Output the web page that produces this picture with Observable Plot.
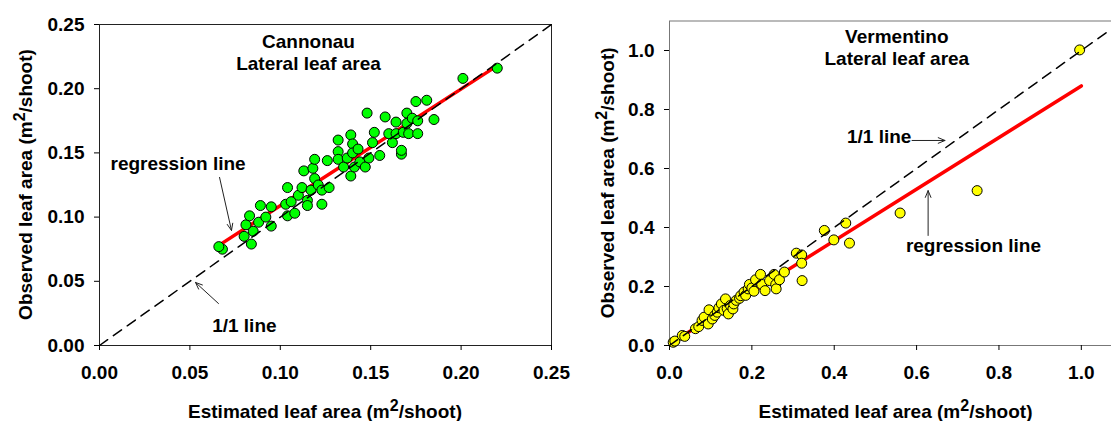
<!DOCTYPE html>
<html>
<head>
<meta charset="utf-8">
<script src="https://cdn.jsdelivr.net/npm/d3@7"></script>
<script src="https://cdn.jsdelivr.net/npm/@observablehq/plot@0.6"></script>
<style>
  html, body { margin: 0; padding: 0; background: #fff; overflow: hidden; }
  #wrap { position: relative; width: 1111px; height: 421px; overflow: hidden; }
  #left, #right { position: absolute; top: 0; }
  #left { left: 0; width: 560px; }
  #right { left: 560px; width: 563px; }
  #wrap svg { max-width: none !important; }
</style>
</head>
<body>
<div id="wrap"><div id="left"></div><div id="right"></div></div>
<script>
// ---- Cannonau (left panel) ----
const cannonauEstimated = [0.068,0.066,0.084,0.080,0.085,0.081,0.088,0.095,0.083,0.092,0.089,0.095,0.103,0.104,0.108,0.106,0.104,0.110,0.112,0.115,0.115,0.117,0.113,0.118,0.119,0.126,0.119,0.121,0.123,0.127,0.123,0.132,0.132,0.132,0.135,0.137,0.139,0.139,0.140,0.140,0.143,0.141,0.144,0.147,0.148,0.149,0.151,0.152,0.155,0.158,0.160,0.162,0.164,0.164,0.167,0.167,0.168,0.170,0.170,0.171,0.173,0.175,0.176,0.176,0.181,0.185,0.201,0.220];
const cannonauObserved  = [0.075,0.077,0.079,0.085,0.089,0.094,0.096,0.093,0.101,0.100,0.109,0.108,0.110,0.101,0.103,0.112,0.123,0.117,0.123,0.113,0.109,0.121,0.136,0.138,0.145,0.144,0.130,0.125,0.121,0.123,0.110,0.160,0.151,0.145,0.139,0.146,0.132,0.164,0.157,0.150,0.153,0.139,0.143,0.139,0.181,0.146,0.158,0.166,0.148,0.178,0.165,0.158,0.174,0.165,0.149,0.152,0.166,0.181,0.173,0.165,0.177,0.190,0.175,0.165,0.191,0.176,0.208,0.216];
const cannonauRegX = [0.066, 0.219];
const cannonauRegY = [0.078, 0.217];
const cannonauTicks = [0, 0.05, 0.10, 0.15, 0.20, 0.25];

// ---- Vermentino (right panel) ----
const vermentinoEstimated = [0.009,0.013,0.031,0.037,0.063,0.071,0.079,0.084,0.094,0.096,0.104,0.110,0.116,0.120,0.126,0.132,0.136,0.140,0.143,0.148,0.154,0.156,0.162,0.170,0.173,0.181,0.185,0.191,0.194,0.200,0.205,0.209,0.221,0.224,0.232,0.243,0.254,0.258,0.259,0.267,0.279,0.308,0.321,0.321,0.322,0.376,0.399,0.428,0.437,0.560,0.747,0.996];
const vermentinoObserved  = [0.011,0.015,0.034,0.031,0.057,0.064,0.085,0.096,0.073,0.121,0.090,0.102,0.113,0.128,0.141,0.119,0.158,0.125,0.107,0.136,0.124,0.141,0.153,0.160,0.169,0.181,0.170,0.192,0.207,0.195,0.184,0.223,0.241,0.207,0.186,0.220,0.241,0.207,0.192,0.223,0.249,0.313,0.307,0.279,0.220,0.390,0.358,0.415,0.347,0.449,0.525,1.002];
const vermentinoRegX = [0.04, 1.0];
const vermentinoRegY = [0.04, 0.88];
const vermentinoTicks = [0, 0.2, 0.4, 0.6, 0.8, 1.0];

// ---- annotations (data coordinates) ----
const cannonauTitle = {x: 0.1156, y: 0.229, text: "Cannonau\nLateral leaf area"};
const cannonauLabels = [
  {x: 0.0061, y: 0.1418, text: "regression line"},
  {x: 0.0623, y: 0.0156, text: "1/1 line"}
];
const cannonauArrows = [
  {x1: 0.0664, y1: 0.1309, x2: 0.0730, y2: 0.0896},
  {x1: 0.0658, y1: 0.0327, x2: 0.0531, y2: 0.0491}
];
const vermentinoTitle = {x: 0.552, y: 1.0135, text: "Vermentino\nLateral leaf area"};
const vermentinoLabels = [
  {x: 0.431, y: 0.706, text: "1/1 line"},
  {x: 0.574, y: 0.336, text: "regression line"}
];
const vermentinoArrows = [
  {x1: 0.589, y1: 0.695, x2: 0.669, y2: 0.695},
  {x1: 0.628, y1: 0.373, x2: 0.628, y2: 0.525}
];

const FONT = "'Liberation Sans', Arial, Helvetica, sans-serif";

function panel(o) {
  const pts = o.est.map((e, i) => ({est: e, obs: o.obs[i]}));
  const reg = o.regX.map((x, i) => ({x, y: o.regY[i]}));
  const max = o.domainMax;
  const chart = Plot.plot({
    width: o.width, height: 421,
    marginLeft: o.ml, marginRight: o.mr, marginTop: o.mt, marginBottom: 76,
    style: {fontFamily: FONT, fontSize: "19px", fontWeight: "bold", color: "#000", background: "transparent", overflow: "visible", maxWidth: "none"},
    x: {domain: [0, max], ticks: o.ticks, tickFormat: d3.format(o.fmt), label: null, tickSize: 5, tickPadding: 15},
    y: {domain: [0, max], ticks: o.ticks, tickFormat: d3.format(o.fmt), label: null, tickSize: 5, tickPadding: 10},
    marks: [
      Plot.frame({stroke: o.frameColor}),
      Plot.line(reg, {x: "x", y: "y", stroke: "#ff0000", strokeWidth: 3.5}),
      Plot.dot(pts, {x: "est", y: "obs", r: 5, fill: o.color, stroke: "#000", strokeWidth: 1, fillOpacity: 1}),
      Plot.line([{x: 0, y: 0}, {x: max, y: max}], {x: "x", y: "y", stroke: "#000", strokeWidth: 1.5, strokeDasharray: "10,7"}),
      Plot.text([o.title], {x: "x", y: "y", text: "text", textAnchor: "middle", lineAnchor: "middle", lineHeight: 1.16, fill: "#000"}),
      Plot.text(o.labels, {x: "x", y: "y", text: "text", textAnchor: "start", fill: "#000"}),
      Plot.arrow(o.arrows, {x1: "x1", y1: "y1", x2: "x2", y2: "y2", stroke: "#222", strokeWidth: 1, headLength: 11, headAngle: 45}),
      Plot.axisX({ticks: o.ticks, tickFormat: d3.format(o.fmt), label: null, tickSize: 5, tickPadding: 15}),
      Plot.axisY({ticks: o.ticks, tickFormat: d3.format(o.fmt), label: null, tickSize: 5, tickPadding: 10})
    ]
  });
  const svg = d3.select(chart);
  // x axis title with superscript
  const xt = svg.append("text")
    .attr("x", o.xLabelX).attr("y", 418)
    .attr("text-anchor", "middle")
    .style("font-family", FONT).style("font-size", "19px").style("font-weight", "bold").attr("fill", "#000");
  xt.append("tspan").text("Estimated leaf area (m");
  xt.append("tspan").attr("dy", -7).style("font-size", "16px").text("2");
  xt.append("tspan").attr("dy", 7).text("/shoot)");
  // y axis title with superscript
  const yt = svg.append("text")
    .attr("transform", `translate(${o.yLabelX},${o.yLabelY}) rotate(-90)`)
    .attr("text-anchor", "middle").attr("dy", "0.35em")
    .style("font-family", FONT).style("font-size", "19px").style("font-weight", "bold").attr("fill", "#000");
  yt.append("tspan").text("Observed leaf area (m");
  yt.append("tspan").attr("dy", -7).style("font-size", "16px").text("2");
  yt.append("tspan").attr("dy", 7).text("/shoot)");
  return chart;
}

document.getElementById("left").append(panel({
  est: cannonauEstimated, obs: cannonauObserved, regX: cannonauRegX, regY: cannonauRegY,
  domainMax: 0.25, ticks: cannonauTicks, fmt: ".2f", color: "#00ff00",
  width: 560, ml: 99, mr: 9, mt: 24, frameColor: "#222",
  title: cannonauTitle, labels: cannonauLabels, arrows: cannonauArrows,
  xLabelX: 325, yLabelX: 25, yLabelY: 184.5
}));

document.getElementById("right").append(panel({
  est: vermentinoEstimated, obs: vermentinoObserved, regX: vermentinoRegX, regY: vermentinoRegY,
  domainMax: 1.1, ticks: vermentinoTicks, fmt: ".1f", color: "#ffff00",
  width: 563, ml: 109, mr: 1, mt: 20.5, frameColor: "#777",
  title: vermentinoTitle, labels: vermentinoLabels, arrows: vermentinoArrows,
  xLabelX: 335.5, yLabelX: 47, yLabelY: 182.8
}));
</script>
</body>
</html>
